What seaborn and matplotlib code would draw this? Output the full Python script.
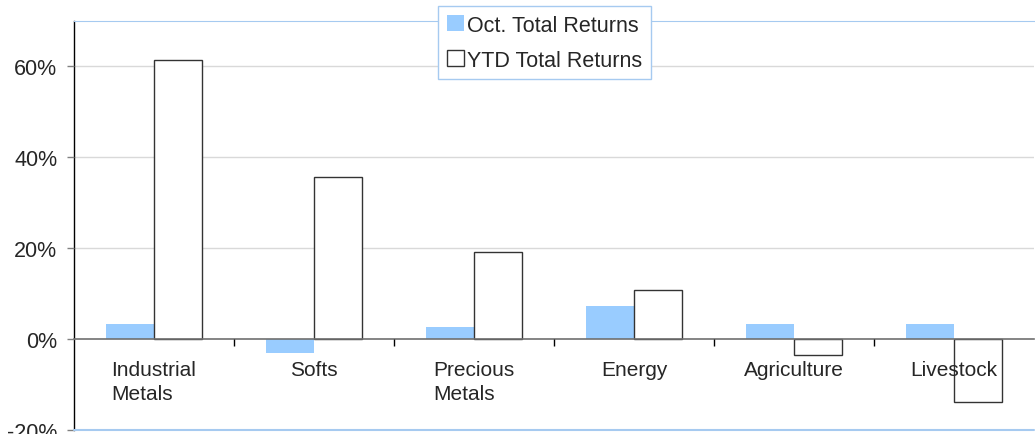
import matplotlib
matplotlib.use("Agg")
import matplotlib.pyplot as plt
import seaborn as sns
import pandas as pd
from matplotlib.ticker import FuncFormatter, FixedLocator

categories = ["Industrial\nMetals", "Softs", "Precious\nMetals", "Energy", "Agriculture", "Livestock"]
oct_returns = [3.3, -3.0, 2.6, 7.3, 3.3, 3.3]
ytd_returns = [61.5, 35.6, 19.1, 10.9, -3.6, -13.9]
series_names = ["Oct. Total Returns", "YTD Total Returns"]
y_ticks = [-20, 0, 20, 40, 60]

df = pd.DataFrame({
    "category": categories * 2,
    "series": [series_names[0]] * len(categories) + [series_names[1]] * len(categories),
    "value": oct_returns + ytd_returns,
})

sns.set_style("white")
plt.rcParams["font.family"] = ["Liberation Sans", "DejaVu Sans"]

fig = plt.figure(figsize=(10.35, 4.35), dpi=100)
ax = fig.add_axes([74 / 1035, 4 / 435, 960 / 1035, 409 / 435])

palette = {series_names[0]: "#99CCFF", series_names[1]: "#FFFFFF"}
sns.barplot(data=df, x="category", y="value", hue="series", order=categories,
            hue_order=series_names, palette=palette, width=0.6, dodge=True,
            saturation=1, legend=False, ax=ax, zorder=1)
ax.set_axisbelow(False)

for p in ax.containers[0]:
    p.set_linewidth(0)
for p in ax.containers[1]:
    p.set_edgecolor("#333333")
    p.set_linewidth(1.0)

ax.set_ylim(-20, 70)
ax.set_xlim(-0.5, len(categories) - 0.5)
ax.yaxis.set_major_locator(FixedLocator(y_ticks))
ax.yaxis.set_major_formatter(FuncFormatter(lambda v, _: f"{v:.0f}%"))
for v in y_ticks[2:]:
    ax.axhline(v, color="#D9D9D9", lw=1.0, zorder=0)

ax.set_xlabel("")
ax.set_ylabel("")

ax.spines["left"].set_color("#000000")
ax.spines["left"].set_linewidth(1.0)
ax.spines["bottom"].set_position(("data", 0))
ax.spines["bottom"].set_color("#707070")
ax.spines["bottom"].set_linewidth(1.2)
ax.spines["top"].set_color("#A6CAF0")
ax.spines["right"].set_visible(False)
ax.axhline(-20, color="#A6CAF0", lw=1.5, zorder=5, clip_on=False)

ax.tick_params(axis="y", which="major", direction="out", length=5, width=1,
               color="#808080", labelsize=15.5, pad=7, left=True)
ax.tick_params(axis="x", which="major", length=0, pad=15, labelsize=15, bottom=True)
ax.set_xticks(range(len(categories)))
ax.set_xticklabels(categories, multialignment="left", linespacing=1.35)
ax.set_xticks([i + 0.5 for i in range(len(categories) - 1)], minor=True)
ax.tick_params(axis="x", which="minor", direction="out", length=5, width=1,
               color="#000000", bottom=True)

handles = [ax.containers[0][0], ax.containers[1][0]]
leg = fig.legend(handles, series_names, loc="upper center",
                 bbox_to_anchor=(544.5 / 1035, 1 - 7 / 435), fontsize=15.5,
                 frameon=True, fancybox=False, framealpha=1, edgecolor="#A6CAF0",
                 handlelength=0.8, handleheight=0.8, handletextpad=0.15,
                 labelspacing=0.65, borderpad=0.4, borderaxespad=0)
leg.get_frame().set_linewidth(1.0)

fig.savefig("out.png", dpi=100)
